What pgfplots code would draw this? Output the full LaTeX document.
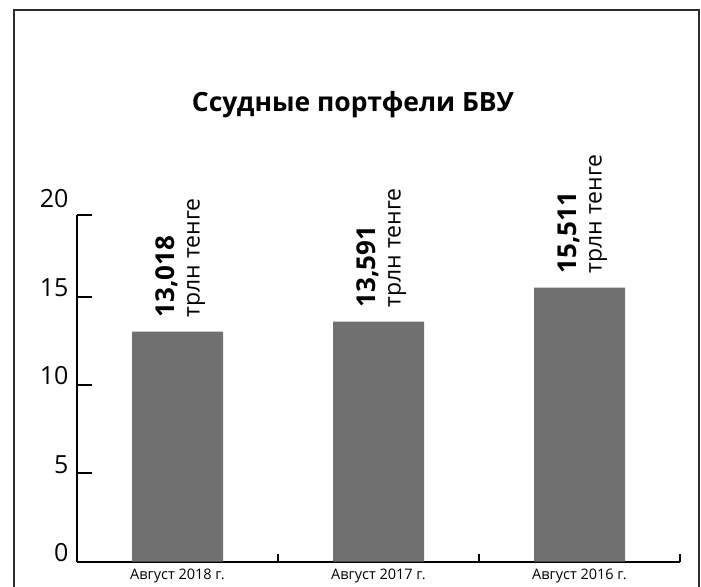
\documentclass[border=0pt]{standalone}
\usepackage{fontspec}
\setmainfont{Open Sans}
\usepackage{pgfplots}
\pgfplotsset{compat=1.18}
\definecolor{barc}{RGB}{112,112,112}
\definecolor{framec}{RGB}{45,45,45}
\begin{document}
\begin{tikzpicture}
\useasboundingbox (0,0) rectangle (701bp,587bp);
\draw[framec, line width=1.6bp] (14bp,-10bp) -- (14bp,577bp) -- (699bp,577bp) -- (699bp,-10bp);
\node[font=\fontsize{26.5bp}{30bp}\selectfont\bfseries, anchor=base] at (353bp,475bp) {Ссудные портфели БВУ};
\begin{axis}[
  at={(77bp,25.3bp)}, anchor=south west,
  scale only axis, width=603bp, height=346.7bp,
  xmin=-0.5, xmax=2.5, ymin=0, ymax=19.62,
  axis lines*=left,
  axis line style={line width=2.2bp, black},
  tick align=inside,
  major tick length=15bp, minor tick length=8bp,
  every tick/.style={black, line width=2bp},
  xtick={0,1,2},
  xticklabels={Август 2018 г., Август 2017 г., Август 2016 г.},
  every major x tick/.append style={draw=none},
  minor xtick={0.5,1.5,2.5},
  ytick={0,5,10,15},
  extra y ticks={19.62},
  extra y tick labels={20},
  extra y tick style={yticklabel style={yshift=7bp}},
  /pgf/number format/assume math mode=true,
  yticklabel style={font=\fontsize{25bp}{28bp}\selectfont, anchor=base east, xshift=-5bp},
  xticklabel style={font=\fontsize{14.5bp}{16bp}\selectfont, yshift=-4bp},
  point meta=y,
  nodes near coords={{\bfseries\fontsize{26bp}{27bp}\selectfont\pgfmathprintnumber[fixed,precision=3,zerofill,use comma]{\pgfplotspointmeta}}\\{\fontsize{23bp}{24bp}\selectfont трлн тенге}},
  every node near coord/.append style={rotate=90, anchor=west, align=left, inner xsep=14bp, inner ysep=0pt, yshift=-3bp, font=\fontsize{23bp}{25bp}\selectfont, black},
  clip=false,
]
\addplot[ybar, fill=barc, draw=none, bar width=91bp] coordinates {(0,13.018) (1,13.591) (2,15.511)};
\end{axis}
\end{tikzpicture}
\end{document}
